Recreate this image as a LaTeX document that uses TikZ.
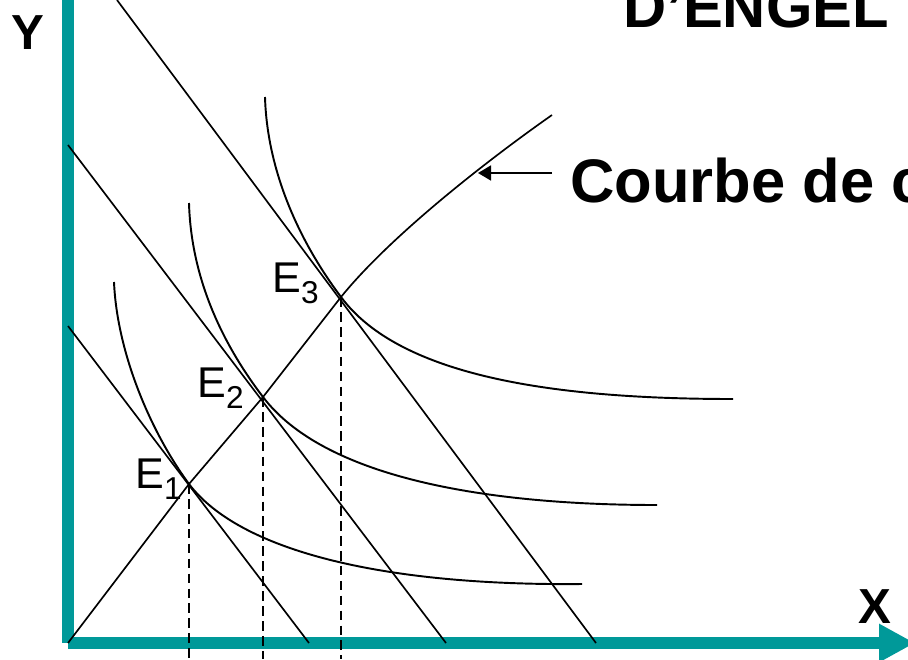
\documentclass[tikz,border=0pt]{standalone}
\usepackage{fontspec}
\setmainfont{Liberation Sans}
\usepackage{xcolor}
\usetikzlibrary{arrows.meta}
\definecolor{axisteal}{RGB}{0,153,153}
\newcommand{\eqsub}[1]{\raisebox{-6.8pt}{\fontsize{18}{20}\selectfont #1}}

\begin{document}
\begin{tikzpicture}[x=0.02cm, y=-0.02cm,
    axis/.style={axisteal, line width=6.5pt},
    budget/.style={line width=0.95pt},
    indiff/.style={line width=1.1pt},
    proj/.style={line width=0.95pt, dash pattern=on 5.5pt off 3pt},
    eqlbl/.style={anchor=base west, inner sep=0pt, font=\fontsize{24.5}{28}\selectfont},
    axlbl/.style={inner sep=0pt, font=\fontsize{28}{32}\selectfont\bfseries},
    bigtxt/.style={anchor=base west, inner sep=0pt, font=\fontsize{35}{40}\selectfont\bfseries}]
  \useasboundingbox (0,0) rectangle (908,659);
  % points
  \coordinate (O) at (68,643);
  \coordinate (bot) at (0,659);
  \coordinate (E1) at (189,484);
  \coordinate (E2) at (263,397);
  \coordinate (E3) at (341,297);
  \coordinate (engel) at (552,115);
  % axes
  \draw[axis] (68,-10) -- (O);
  \draw[axis, -{Triangle[length=0.72cm, width=0.72cm]}] (O) -- (915,643);
  \node[axlbl] (ylab) at (28,33) {Y};
  \node[axlbl] (xlab) at (875,607) {X};
  % budget lines
  \coordinate (B1a) at (68,326);  \coordinate (B1b) at (309,643);
  \coordinate (B2a) at (68,145);  \coordinate (B2b) at (446,643);
  \coordinate (B3a) at (117,0);   \coordinate (B3b) at (596,643);
  \foreach \i in {1,2,3}
    \draw[budget] (B\i a) -- (B\i b);
  % indifference curves
  \draw[indiff] (114,282) .. controls (117,352) and (150,431) .. (E1)
    .. controls (239,550) and (380,586) .. (582,584);
  \draw[indiff] (189,203) .. controls (191,273) and (218,338) .. (E2)
    .. controls (323,476) and (480,505) .. (657,505);
  \draw[indiff] (265,97) .. controls (267,167) and (296,237) .. (E3)
    .. controls (401,378) and (560,399) .. (733,399);
  % engel path
  \draw[budget] (O) -- (E1) -- (E2) -- (E3)
    .. controls (392,234) and (492,157) .. (engel);
  \foreach \i in {1,2,3}
    \draw[proj] (E\i) -- (E\i |- bot);
  \node[eqlbl] (l1) at (135,488) {E\eqsub{1}};
  \node[eqlbl] (l2) at (197,397) {E\eqsub{2}};
  \node[eqlbl] (l3) at (272,292) {E\eqsub{3}};
  % labels
  \node[bigtxt, font=\fontsize{34}{40}\selectfont\bfseries] (title) at (623,28) {D’ENGEL};
  \node[bigtxt] (courbe) at (570,202) {Courbe de consommation};
  \coordinate (arrS) at (552,173);
  \coordinate (arrT) at (478,173);
  \draw[line width=0.95pt, -{Triangle[length=0.26cm, width=0.3cm]}] (arrS) -- (arrT);
\end{tikzpicture}
\end{document}
